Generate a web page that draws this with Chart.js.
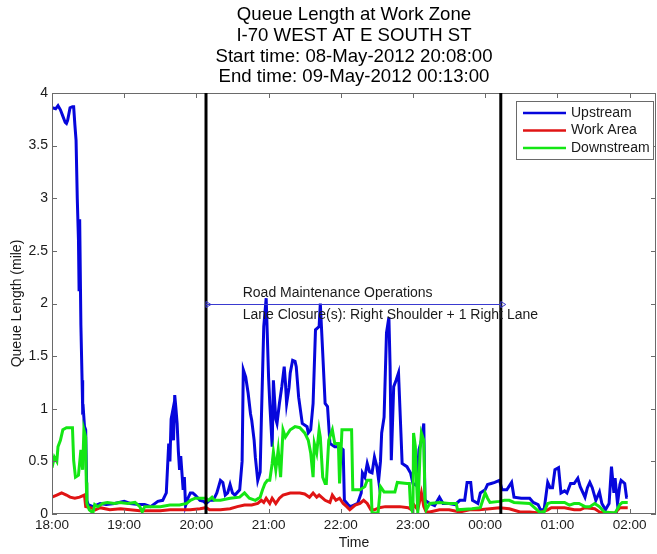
<!DOCTYPE html>
<html><head><meta charset="utf-8">
<script src="https://cdn.jsdelivr.net/npm/chart.js@4/dist/chart.umd.min.js"></script>
<style>html,body{margin:0;padding:0;background:#fff;}#wrap{width:657px;height:554px;}</style>
</head><body><div id="wrap"><canvas id="c" width="657" height="554"></canvas></div>
<script>
// ---- text ----
const titleLines = ['Queue Length at Work Zone','I-70 WEST AT E SOUTH ST','Start time: 08-May-2012 20:08:00','End time: 09-May-2012 00:13:00'];
const xTitle = 'Time';
const yTitle = 'Queue Length (mile)';
const seriesNames = ['Upstream','Work Area','Downstream'];
const seriesColors = ['#0606dc','#e01414','#14e614'];
const annotationLines = ['Road Maintenance Operations','Lane Closure(s): Right Shoulder + 1 Right Lane'];

// ---- axes (x in minutes after 18:00) ----
const xMin = 0, xMax = 502;
const tickTimes = [0,60,120,180,240,300,360,420,480];
const tickLabels = ['18:00','19:00','20:00','21:00','22:00','23:00','00:00','01:00','02:00'];
const yTicks = [0,0.5,1,1.5,2,2.5,3,3.5,4];
const yTickLabels = ['0','0.5','1','1.5','2','2.5','3','3.5','4'];
const closureStart = 128;   // 20:08
const closureEnd = 373;     // 00:13
const closureLevel = 2;
const annotationTime = 158.5;
const annotationValues = [2.1, 1.89];

// ---- Upstream ----
const upTimes = [0,3,5,7,9,11,12,13,15,17,18,19,20,21,22,22.5,23,24,25,25.5,26,27,28,29,30,34,40,45,52,60,65,72,77,82,88,92,95,97,98,99,100,101,102,103,104,105,106,107,109,110,111,113,115,117,119,123,126,128,131,134,137,140,142,144,146,148,150,152,156,158,159,161,163,165,166,168,169,171,173,174,176,178,179,180,181,183,184,186,187,189,191,193,194,195,197,198,200,202,203,205,208,212,213,215,217,219,222,223,225,227,229,231,235,239,242,243,246,248,250,254,257,258,260,262,264,266,268,270,271.5,273,274,276,278,280,281,282,284,286,288,290,291,295,298,300,303,305,307,309,310,314,318,322,325,330,335,339,343,345,348,349.5,354,356,360,362,365,368,372,374,378,382,384,390,397,400,404,406,409,412,414,416,418,421,423,426,428,431,434,437,439,443,445,447,449,452,455,457,460,463,465,467,468,470,472,473,476,477.5,478.5];
const upValues = [3.86,3.85,3.88,3.84,3.78,3.72,3.71,3.74,3.86,3.87,3.87,3.7,3.55,3.0,2.6,2.13,2.8,1.8,1.27,0.99,1.0,0.83,0.8,0.13,0.09,0.07,0.1,0.09,0.1,0.12,0.1,0.09,0.09,0.07,0.12,0.13,0.2,0.67,0.5,0.9,0.96,0.7,1.13,1.0,0.86,0.6,0.42,0.55,0.23,0.35,0.08,0.15,0.2,0.2,0.18,0.13,0.12,0.1,0.13,0.13,0.2,0.32,0.3,0.18,0.2,0.28,0.2,0.18,0.23,0.5,1.37,1.3,1.15,0.95,0.89,0.7,0.54,0.32,0.4,0.89,1.78,2.05,1.68,1.3,1.05,0.64,1.27,0.9,0.86,1.05,1.21,1.4,1.25,1.05,1.2,1.34,1.46,1.45,1.4,1.11,0.86,0.83,0.77,0.8,1.05,1.75,1.78,2.0,1.53,1.05,1.02,0.67,0.64,0.64,0.61,0.13,0.09,0.07,0.08,0.1,0.2,0.39,0.35,0.48,0.4,0.39,0.54,0.45,0.32,0.5,0.77,0.92,1.72,1.87,1.4,0.51,1.21,1.27,1.34,0.77,0.48,0.45,0.39,0.29,0.27,0.61,0.7,0.86,0.13,0.1,0.08,0.16,0.1,0.1,0.09,0.13,0.13,0.3,0.3,0.13,0.1,0.2,0.23,0.28,0.29,0.3,0.32,0.23,0.23,0.3,0.16,0.15,0.15,0.11,0.09,0.04,0.04,0.3,0.25,0.25,0.42,0.44,0.2,0.22,0.2,0.29,0.29,0.34,0.26,0.16,0.25,0.3,0.25,0.13,0.21,0.1,0.04,0.1,0.45,0.2,0.34,0.1,0.28,0.32,0.29,0.16,0.16];

// ---- Work Area ----
const workTimes = [0,4,8,12,15,19,23,27,28,32,36,40,48,57,65,73,90,98,115,123,128,131,140,148,154,160,166,171,174,176,178,181,183,186,189,192,198,206,210,214,217,220,222,227,231,233,236,239,242,245,247.5,252,256,259,262,265,268,272,277,289,296,299,301,304,307,309,311,314,322,330,339,347,355,364,372,380,389,397,405,412,415,426,434,439,443,451,455,459,468,472,478.5];
const workValues = [0.16,0.18,0.2,0.18,0.16,0.15,0.16,0.18,0.07,0.06,0.04,0.06,0.04,0.05,0.04,0.03,0.03,0.04,0.04,0.05,0.06,0.04,0.04,0.05,0.07,0.085,0.085,0.1,0.13,0.11,0.15,0.1,0.15,0.1,0.15,0.18,0.2,0.2,0.19,0.16,0.2,0.16,0.18,0.13,0.11,0.18,0.13,0.15,0.1,0.07,0.04,0.085,0.1,0.13,0.1,0.04,0.04,0.06,0.07,0.07,0.06,0.04,0.085,0.04,0.2,0.07,0.02,0.02,0.04,0.04,0.02,0.04,0.04,0.05,0.06,0.05,0.02,0.02,0.01,0.04,0.06,0.06,0.04,0.04,0.06,0.05,0.02,0.01,0.01,0.06,0.06];

// ---- Downstream ----
const downTimes = [0,2,4,5,7,9,12,17,18,19.5,22,24,25.5,26.5,28,28.5,29,31,33,34,35.5,38,42,46,52,56,63,69,73,75,77,81,90,98,106,112,115,119,123,128,130,133,135,140,148,156,160,164,169,173,175,177,179,181,183,184,186,188,190,192,194,198,202,206,210,213,215,217,218,220,222,223,225,227,228,230,233,235,238,239,241,246,249,250,256,260,262,265,266,271,273,276,285,287,295,297,298,300,300.5,302,303,304,306,307,309,310,311,314,322,330,336,337,349,356,358,360,362,364,372,376,380,384,397,401,405,409,412,415,426,430,434,438,443,447,451,455,459,468,472,474,478.5];
const downValues = [0.44,0.54,0.5,0.64,0.7,0.8,0.82,0.82,0.51,0.35,0.37,0.61,0.42,0.8,0.73,0.3,0.1,0.04,0.02,0.01,0.09,0.07,0.1,0.11,0.1,0.11,0.1,0.11,0.07,0.02,0.07,0.07,0.07,0.085,0.085,0.1,0.13,0.15,0.15,0.15,0.13,0.16,0.13,0.13,0.15,0.16,0.2,0.15,0.13,0.16,0.23,0.29,0.32,0.32,0.48,0.59,0.42,0.61,0.35,0.8,0.73,0.8,0.83,0.82,0.77,0.7,0.58,0.35,0.67,0.58,0.8,0.73,0.35,0.29,0.29,0.7,0.8,0.67,0.67,0.29,0.8,0.8,0.8,0.23,0.23,0.26,0.32,0.32,0.01,0.01,0.26,0.21,0.21,0.3,0.29,0.29,0.07,0.01,0.77,0.64,0.3,0.01,0.61,0.77,0.7,0.13,0.04,0.1,0.11,0.1,0.1,0.04,0.05,0.06,0.13,0.2,0.15,0.11,0.12,0.13,0.13,0.11,0.1,0.06,0.02,0.02,0.1,0.11,0.11,0.085,0.1,0.1,0.07,0.07,0.1,0.07,0.02,0.01,0.09,0.11,0.11];

const FONT = '"Liberation Sans", Arial, Helvetica, sans-serif';
const TEXT = '#1a1a1a';
const AXIS = '#6a6a6a';

function pts(ts, vs){ return ts.map((t,i)=>({x:t,y:vs[i]})); }

const decor = {
  id:'decor',
  afterDatasetsDraw(chart){
    const {ctx, chartArea:a, scales:{x,y}} = chart;
    ctx.save();
    // frame
    ctx.strokeStyle = AXIS; ctx.lineWidth = 1;
    ctx.strokeRect(a.left+0.5, a.top+0.5, a.right-a.left-1, a.bottom-a.top-1);
    // inward ticks
    const tl = 5;
    tickTimes.forEach(t=>{
      const px = Math.round(x.getPixelForValue(t))+0.5;
      ctx.beginPath(); ctx.moveTo(px,a.bottom); ctx.lineTo(px,a.bottom-tl);
      ctx.moveTo(px,a.top); ctx.lineTo(px,a.top+tl); ctx.stroke();
    });
    yTicks.forEach(v=>{
      const py = Math.round(y.getPixelForValue(v))+0.5;
      ctx.beginPath(); ctx.moveTo(a.left,py); ctx.lineTo(a.left+tl,py);
      ctx.moveTo(a.right,py); ctx.lineTo(a.right-tl,py); ctx.stroke();
    });
    // closure lines
    ctx.strokeStyle = '#000'; ctx.lineWidth = 3;
    [closureStart, closureEnd].forEach(t=>{
      const px = x.getPixelForValue(t);
      ctx.beginPath(); ctx.moveTo(px,a.top); ctx.lineTo(px,a.bottom); ctx.stroke();
    });
    // annotation arrow
    const x1 = x.getPixelForValue(closureStart), x2 = x.getPixelForValue(closureEnd);
    const py = Math.round(y.getPixelForValue(closureLevel))+0.5;
    ctx.strokeStyle = '#3a3ad0'; ctx.lineWidth = 1;
    ctx.beginPath(); ctx.moveTo(x1,py); ctx.lineTo(x2,py); ctx.stroke();
    [x1, x2].forEach(px=>{
      ctx.beginPath(); ctx.moveTo(px,py-3); ctx.lineTo(px+5,py); ctx.lineTo(px,py+3); ctx.closePath(); ctx.stroke();
    });
    // annotation text
    ctx.fillStyle = TEXT; ctx.font = '14px '+FONT; ctx.textAlign='left'; ctx.textBaseline='middle';
    annotationLines.forEach((s,i)=>{
      ctx.fillText(s, x.getPixelForValue(annotationTime), y.getPixelForValue(annotationValues[i]));
    });
    // legend
    const bw = 137, bh = 58;
    const bx = a.right - 140, by = a.top + 8;
    ctx.fillStyle = '#fff'; ctx.fillRect(bx,by,bw,bh);
    ctx.strokeStyle = AXIS; ctx.lineWidth = 1; ctx.strokeRect(bx+0.5,by+0.5,bw,bh);
    seriesNames.forEach((n,i)=>{
      const ly = by + 12 + i*17.5;
      ctx.strokeStyle = seriesColors[i]; ctx.lineWidth = 2.5;
      ctx.beginPath(); ctx.moveTo(bx+7,ly); ctx.lineTo(bx+50,ly); ctx.stroke();
      ctx.fillStyle = TEXT; ctx.font = '14px '+FONT; ctx.textAlign='left'; ctx.textBaseline='middle';
      ctx.fillText(n, bx+55, ly);
    });
    // title
    ctx.fillStyle = '#000'; ctx.font = '18.6px '+FONT; ctx.textAlign='center'; ctx.textBaseline='middle';
    const cx = (a.left+a.right)/2;
    titleLines.forEach((s,i)=> ctx.fillText(s, cx, 15 + i*20.7));
    ctx.restore();
  }
};

new Chart(document.getElementById('c'), {
  type:'line',
  data:{ datasets:[
    {label:seriesNames[0], data:pts(upTimes,upValues), borderColor:seriesColors[0], borderWidth:3, pointRadius:0, tension:0, order:3},
    {label:seriesNames[1], data:pts(workTimes,workValues), borderColor:seriesColors[1], borderWidth:3, pointRadius:0, tension:0, order:2},
    {label:seriesNames[2], data:pts(downTimes,downValues), borderColor:seriesColors[2], borderWidth:3, pointRadius:0, tension:0, order:1}
  ]},
  options:{
    responsive:false, animation:false, devicePixelRatio:1,
    layout:{padding:{top:93,right:1,left:0,bottom:0}},
    plugins:{legend:{display:false}, title:{display:false}, tooltip:{enabled:false}},
    scales:{
      x:{type:'linear', min:xMin, max:xMax,
        afterBuildTicks(s){ s.ticks = tickTimes.map(v=>({value:v})); },
        afterFit(s){ s.height = 40; },
        grid:{display:false, drawTicks:false},
        border:{display:false},
        ticks:{font:{family:FONT,size:13.5}, color:TEXT, padding:3, maxRotation:0, autoSkip:false,
          callback:(v)=>{ const i = tickTimes.indexOf(v); return i>=0 ? tickLabels[i] : ''; }},
        title:{display:true, text:xTitle, font:{family:FONT,size:14}, color:TEXT, padding:{top:2,bottom:2.5}}
      },
      y:{min:0, max:4,
        afterBuildTicks(s){ s.ticks = yTicks.map(v=>({value:v})); },
        afterFit(s){ s.width = 52; },
        grid:{display:false, drawTicks:false},
        border:{display:false},
        ticks:{font:{family:FONT,size:14}, color:TEXT, padding:4, autoSkip:false,
          callback:(v)=>{ const i = yTicks.indexOf(v); return i>=0 ? yTickLabels[i] : ''; }},
        title:{display:true, text:yTitle, font:{family:FONT,size:14}, color:TEXT, padding:{top:8.5,bottom:0}}
      }
    }
  },
  plugins:[decor]
});
</script></body></html>
